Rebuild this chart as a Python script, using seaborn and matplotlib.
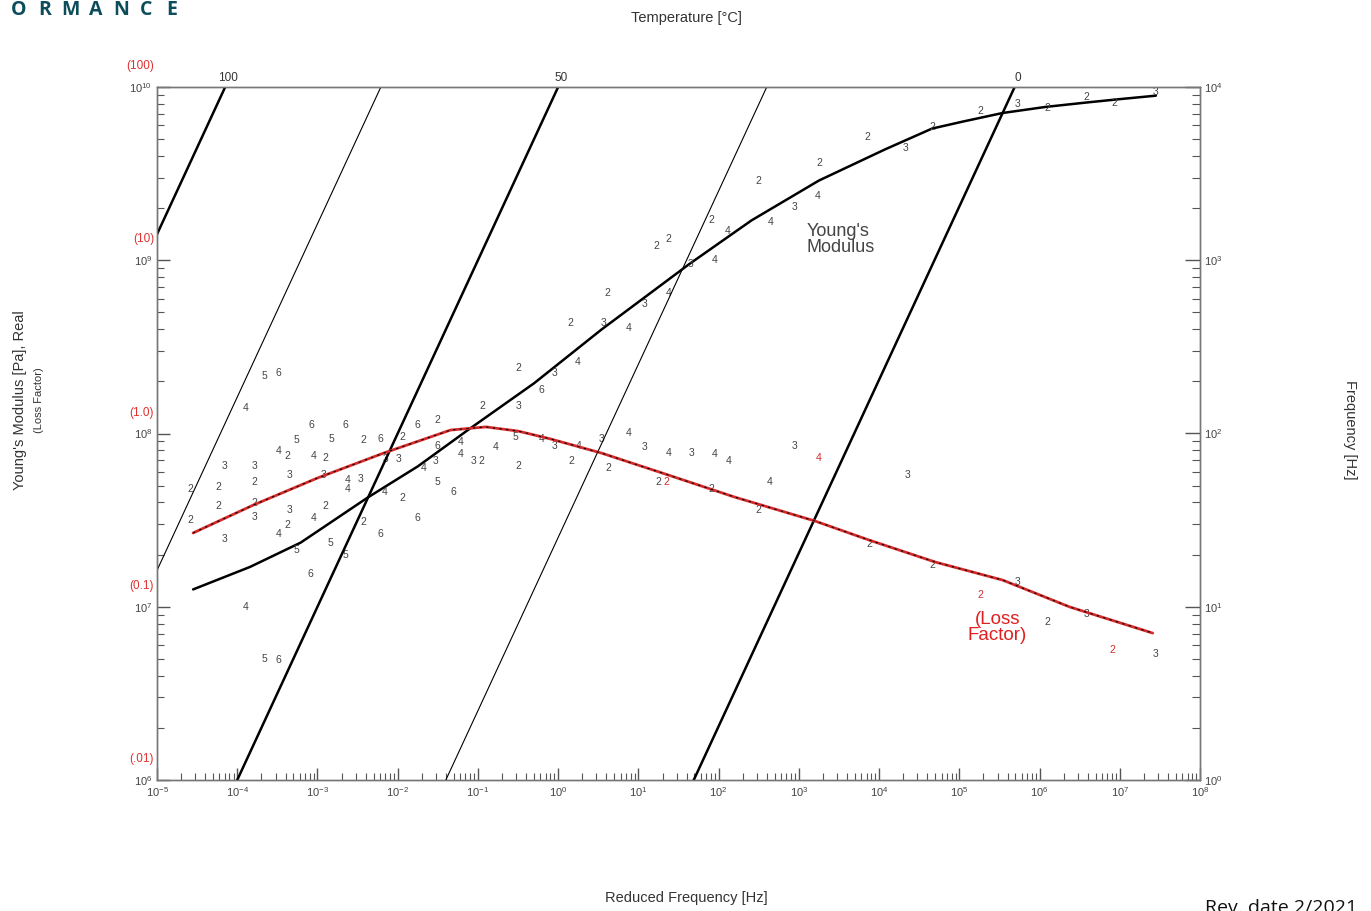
import numpy as np
import pandas as pd
import matplotlib
matplotlib.use("Agg")
import matplotlib.pyplot as plt
import seaborn as sns
from matplotlib.ticker import LogLocator, NullFormatter

# master curves (log10 reduced frequency [Hz])
mod_logfr = [-4.55, -3.84, -3.21, -2.375, -1.75, -1.125, -0.30, 0.54, 1.64, 2.41,
             3.25, 4.075, 4.66, 5.04, 5.54, 6.075, 6.575, 7.0, 7.45]
mod_logE = [7.10, 7.23, 7.37, 7.63, 7.81, 8.02, 8.29, 8.60, 8.98, 9.23,
            9.46, 9.64, 9.76, 9.80, 9.85, 9.885, 9.91, 9.93, 9.95]

loss_logfr = [-4.55, -3.80, -3.0, -2.175, -1.34, -0.90, -0.50, -0.09, 0.54,
              1.375, 2.2, 3.2, 3.875, 4.7, 5.54, 6.375, 7.41]
loss_logeta = [-0.574, -0.413, -0.257, -0.113, 0.02, 0.038, 0.014, -0.032, -0.113,
               -0.24, -0.367, -0.505, -0.615, -0.742, -0.846, -1.001, -1.152]

# isotherms: log10 shift factor aT per temperature
iso_temp = ["100", "75", "50", "25", "0"]
iso_logaT = [-8.15, -6.21, -4.0, -1.4, 1.69]
iso_labelled = [True, False, True, False, True]

# measured points, plotted as the test number
pt_num = ["5", "6", "4", "4", "5", "6",
          "2", "2", "3", "2", "2", "3",
          "3", "2", "2", "3",
          "4", "2", "5", "3", "3", "4", "2", "5",
          "6", "5", "6", "4", "2", "3", "4", "3", "4",
          "4", "2", "5", "6", "5", "2", "6",
          "2", "6", "2", "3", "3", "4", "2",
          "6", "2", "6", "6", "3", "4", "5", "6",
          "4", "4", "3", "2", "4",
          "2", "3", "2", "3", "4", "6",
          "2", "5", "4", "3", "4", "3", "4",
          "3", "4", "3", "4", "4", "3", "4", "4",
          "2", "2", "2", "2", "2", "2", "3",
          "2", "2", "3", "2", "2", "3", "2", "3",
          "2", "3", "4", "2", "3", "4", "2", "2",
          "3", "4", "2", "4", "4", "3", "4", "2", "2",
          "2", "3", "2", "2", "3", "2", "2", "2", "3"]
pt_logfr = [-3.66, -3.49, -3.89, -3.89, -3.66, -3.49,
            -4.59, -4.59, -4.16, -4.23, -4.23, -4.16,
            -3.79, -3.79, -3.79, -3.79,
            -3.48, -3.38, -3.26, -3.35, -3.35, -3.48, -3.38, -3.26,
            -3.08, -2.83, -2.65, -3.05, -2.90, -2.93, -2.63, -2.46, -2.63,
            -3.05, -2.90, -2.84, -3.09, -2.65, -2.43, -2.22,
            -2.43, -2.22, -1.94, -2.15, -1.99, -2.16, -1.94,
            -1.76, -1.50, -1.76, -1.50, -1.53, -1.68, -1.51, -1.31,
            -1.21, -1.21, -1.06, -0.96, -0.78,
            -0.94, -0.50, -0.49, -0.05, 0.24, -0.21,
            -0.50, -0.53, -0.21, -0.05, 0.25, 0.54, 0.88,
            1.08, 1.38, 1.66, 1.95, 2.13, 2.95, 3.25, 2.64,
            0.16, 0.63, 1.25, 1.35, 1.91, 2.50, 4.35,
            3.88, 4.66, 5.73, 5.26, 6.10, 6.58, 6.91, 7.44,
            0.15, 0.56, 0.88, 0.61, 1.08, 1.38, 1.23, 1.38,
            1.65, 1.95, 1.91, 2.11, 2.65, 2.94, 3.24, 2.50, 3.25,
            3.85, 4.33, 4.66, 5.26, 5.73, 6.10, 6.58, 6.93, 7.45]
pt_logy = [8.33, 8.35, 8.15, 7.00, 6.70, 6.69,
           7.68, 7.50, 7.81, 7.69, 7.58, 7.39,
           7.81, 7.72, 7.60, 7.52,
           7.90, 7.87, 7.96, 7.76, 7.56, 7.42, 7.47, 7.33,
           8.05, 7.97, 8.05, 7.87, 7.86, 7.76, 7.73, 7.74, 7.68,
           7.51, 7.58, 7.37, 7.19, 7.30, 7.49, 7.42,
           7.96, 7.97, 7.98, 7.85, 7.85, 7.66, 7.63,
           8.05, 8.08, 7.51, 7.93, 7.84, 7.80, 7.72, 7.66,
           7.95, 7.88, 7.84, 7.84, 7.92,
           8.16, 8.16, 8.38, 8.35, 8.41, 8.25,
           7.81, 7.98, 7.97, 7.93, 7.93, 7.97, 8.00,
           7.92, 7.89, 7.89, 7.88, 7.84, 7.93, 7.86, 7.72,
           7.84, 7.80, 7.72, 7.72, 7.68, 7.56, 7.76,
           7.36, 7.24, 7.14, 7.07, 6.91, 6.96, 6.75, 6.73,
           8.64, 8.64, 8.61, 8.81, 8.75, 8.81, 9.08, 9.12,
           8.98, 9.00, 9.23, 9.17, 9.22, 9.31, 9.37, 9.46, 9.56,
           9.71, 9.65, 9.77, 9.86, 9.90, 9.88, 9.94, 9.91, 9.97]
red_pts = [(3.25, 7.86), (1.35, 7.72), (5.26, 7.07), (6.91, 6.75)]

loss_ticks = [0.01, 0.1, 1.0, 10, 100]
loss_ticklabels = ["(.01)", "(0.1)", "(1.0)", "(10)", "(100)"]

sns.set_theme(style="ticks")
plt.rcParams["font.family"] = ["Liberation Sans", "DejaVu Sans"]

W, H = 1371, 911
fig = plt.figure(figsize=(W / 100, H / 100), dpi=100)
ax = fig.add_axes([157 / W, 1 - 780 / H, (1200 - 157) / W, (780 - 87) / H])
ax.set_xscale("log")
ax.set_yscale("log")
ax.set_xlim(1e-5, 1e8)
ax.set_ylim(1e6, 1e10)

ax_f = ax.twinx()   # frequency axis (right)
ax_f.set_yscale("log")
ax_f.set_ylim(1, 1e4)
ax_l = ax.twinx()   # loss factor (hidden, red labels on left)
ax_l.set_yscale("log")
ax_l.set_ylim(1e-2, 1e2)
ax_l.axis("off")

# isotherms
fr_ends = np.array([1e-5, 1e8])
for t, la, thick in zip(iso_temp, iso_logaT, iso_labelled):
    d = pd.DataFrame({"fr": fr_ends, "f": fr_ends / 10 ** la})
    sns.lineplot(data=d, x="fr", y="f", ax=ax_f, color="black",
                 lw=1.8 if thick else 0.8, estimator=None, sort=False)
    if thick:
        ax_f.annotate(t, xy=(1e4 * 10 ** la, 1e4), xytext=(2, 2), textcoords="offset points",
                      ha="center", va="bottom", fontsize=8.5, color="#333",
                      annotation_clip=False)

# master curves
mod_df = pd.DataFrame({"fr": 10 ** np.array(mod_logfr), "E": 10 ** np.array(mod_logE)})
sns.lineplot(data=mod_df, x="fr", y="E", ax=ax, color="black", lw=1.8,
             estimator=None, sort=False)
loss_df = pd.DataFrame({"fr": 10 ** np.array(loss_logfr), "eta": 10 ** np.array(loss_logeta)})
sns.lineplot(data=loss_df, x="fr", y="eta", ax=ax_l, color="#d42a2a", lw=2.0,
             estimator=None, sort=False)
sns.lineplot(data=loss_df, x="fr", y="eta", ax=ax_l, color="black", lw=0.8,
             linestyle=(0, (2, 4)), estimator=None, sort=False)

# measured points as numbers
for n, lx, ly in zip(pt_num, pt_logfr, pt_logy):
    c = "#d42a2a" if (lx, ly) in red_pts else "#444444"
    ax.text(10 ** lx, 10 ** ly, n, fontsize=7.5, color=c, ha="center", va="center")

ax.text(10 ** 3.1, 10 ** 9.12, "Young's\nModulus", fontsize=13, color="#444",
        ha="left", va="center", linespacing=0.9)
ax_l.text(10 ** 5.475, 10 ** -1.12, "(Loss\nFactor)", fontsize=13.5, color="#e02020",
          ha="center", va="center", linespacing=0.95)

# ticks
for a in (ax, ax_f):
    for s in a.spines.values():
        s.set_color("#777")
        s.set_linewidth(1)
ax.xaxis.set_major_locator(LogLocator(base=10, numticks=30))
ax.xaxis.set_minor_locator(LogLocator(base=10, subs=np.arange(2, 10), numticks=300))
ax.xaxis.set_minor_formatter(NullFormatter())
ax.yaxis.set_major_locator(LogLocator(base=10, numticks=30))
ax.yaxis.set_minor_locator(LogLocator(base=10, subs=np.arange(2, 10), numticks=300))
ax.yaxis.set_minor_formatter(NullFormatter())
ax_f.yaxis.set_major_locator(LogLocator(base=10, numticks=30))
ax_f.yaxis.set_minor_locator(LogLocator(base=10, subs=np.arange(2, 10), numticks=300))
ax_f.yaxis.set_minor_formatter(NullFormatter())
ax.tick_params(which="both", direction="in", top=False, right=False,
               labelsize=8, labelcolor="#444", color="#555")
ax.tick_params(which="major", length=9, width=1)
ax.tick_params(which="minor", length=5, width=0.8)
ax_f.tick_params(which="both", direction="in", labelsize=8, labelcolor="#444", color="#555")
ax_f.tick_params(which="major", length=11, width=1, pad=3)
ax_f.tick_params(which="minor", length=6, width=0.8)
ax.set_xlabel("")
ax.set_ylabel("")
ax_f.set_xlabel("")
ax_f.set_ylabel("")

for v, lab in zip(loss_ticks, loss_ticklabels):
    ax_l.annotate(lab, xy=(0, v), xycoords=ax_l.get_yaxis_transform(), xytext=(-2, 15),
                  textcoords="offset points", ha="right", va="center",
                  color="#e03030", fontsize=8.5, annotation_clip=False)

# outer texts
fig.text(686 / W, 1 - 18 / H, "Temperature [°C]", ha="center", va="center",
         fontsize=10.5, color="#333")
fig.text(686 / W, 1 - 898 / H, "Reduced Frequency [Hz]", ha="center", va="center",
         fontsize=10.5, color="#333")
fig.text(20 / W, 1 - 400 / H, "Young's Modulus [Pa], Real", rotation=90,
         ha="center", va="center", fontsize=10.5, color="#333")
fig.text(39 / W, 1 - 400 / H, "(Loss Factor)", rotation=90,
         ha="center", va="center", fontsize=8, color="#333")
fig.text(1350 / W, 1 - 430 / H, "Frequency [Hz]", rotation=-90,
         ha="center", va="center", fontsize=10.5, color="#333")

# page header / footer fragments (cut by the page edge in the source)
for k, ch in enumerate(reversed("FORMANCE")):
    fig.text((172 - 25.5 * k) / W, 1.0, ch, ha="center", va="top",
             fontsize=14, fontweight="bold", color="#0d4d5a", family="Open Sans")
fig.text(1205 / W, 1 - 899 / H, "Rev. date 2/2021", ha="left", va="top",
         fontsize=14, color="#111", family="Open Sans")

fig.savefig("out.png", dpi=100)
